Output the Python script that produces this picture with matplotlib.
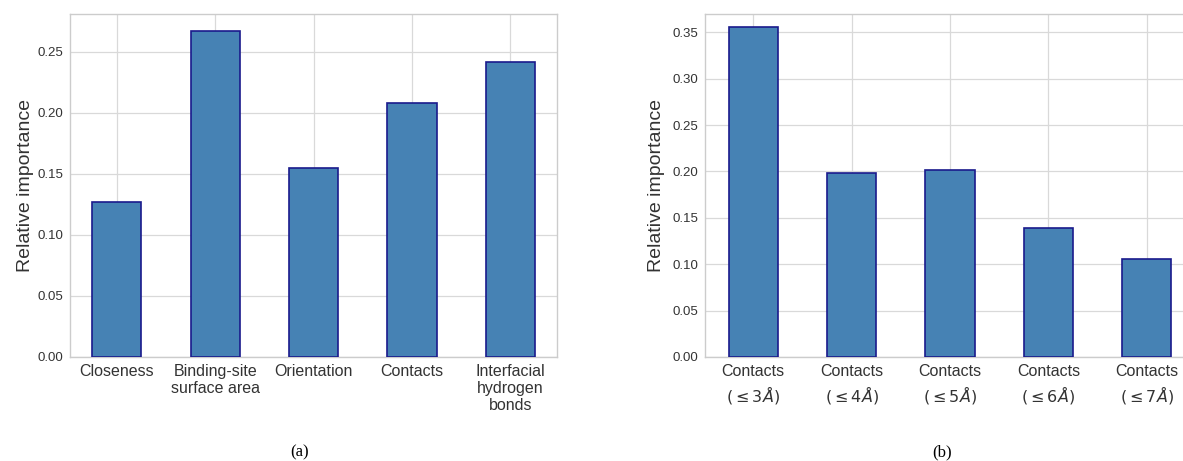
import matplotlib

matplotlib.use("Agg")
import matplotlib.pyplot as plt

features_a = ["Closeness", "Binding-site\nsurface area", "Orientation", "Contacts",
              "Interfacial\nhydrogen\nbonds"]
importance_a = [0.127, 0.267, 0.155, 0.208, 0.242]

features_b = [r"Contacts" + "\n" + r"$(\leq 3\mathit{\AA})$",
              r"Contacts" + "\n" + r"$(\leq 4\mathit{\AA})$",
              r"Contacts" + "\n" + r"$(\leq 5\mathit{\AA})$",
              r"Contacts" + "\n" + r"$(\leq 6\mathit{\AA})$",
              r"Contacts" + "\n" + r"$(\leq 7\mathit{\AA})$"]
importance_b = [0.356, 0.198, 0.202, 0.139, 0.106]

yticks_a = [0.00, 0.05, 0.10, 0.15, 0.20, 0.25]
yticks_b = [0.00, 0.05, 0.10, 0.15, 0.20, 0.25, 0.30, 0.35]

plt.rcParams["font.family"] = ["Liberation Sans", "DejaVu Sans"]
plt.rcParams["mathtext.fontset"] = "dejavusans"

fig = plt.figure(figsize=(11.83, 4.61), dpi=100)
ax_a = fig.add_axes([0.0592, 0.2256, 0.4117, 0.744])
ax_b = fig.add_axes([0.596, 0.2256, 0.415, 0.744])


def style(ax, labels, values, yticks, ylim, xlim, spacing):
    pos = range(len(values))
    ax.bar(pos, values, width=0.5, color="#4682b4", edgecolor="#1a1a8c", linewidth=1.2, zorder=3)
    ax.set_xticks(list(pos))
    ax.set_xticklabels(labels, fontsize=11.5, color="#333333", linespacing=spacing)
    ax.set_yticks(yticks)
    ax.set_yticklabels([f"{t:.2f}" for t in yticks], fontsize=9.5, color="#333333")
    ax.set_ylim(*ylim)
    ax.set_xlim(*xlim)
    ax.set_ylabel("Relative importance", fontsize=14, color="#333333")
    ax.grid(True, color="#d9d9d9", linewidth=0.9, zorder=0)
    ax.tick_params(length=0, pad=5)
    for s in ax.spines.values():
        s.set_color("#cccccc")
        s.set_linewidth(1.0)
    ax.set_facecolor("white")


style(ax_a, features_a, importance_a, yticks_a, (0, 0.281), (-0.475, 4.475), 1.15)
style(ax_b, features_b, importance_b, yticks_b, (0, 0.3696), (-0.49, 4.5), 1.3)
ax_a.yaxis.labelpad = 2
ax_b.yaxis.labelpad = 5

fig.text(300 / 1183, 1 - 452 / 461, "(a)", family="Liberation Serif", fontsize=12, ha="center", va="center")
fig.text(942 / 1183, 1 - 452 / 461, "(b)", family="Liberation Serif", fontsize=12, ha="center", va="center")

fig.savefig("out.png", dpi=100)
